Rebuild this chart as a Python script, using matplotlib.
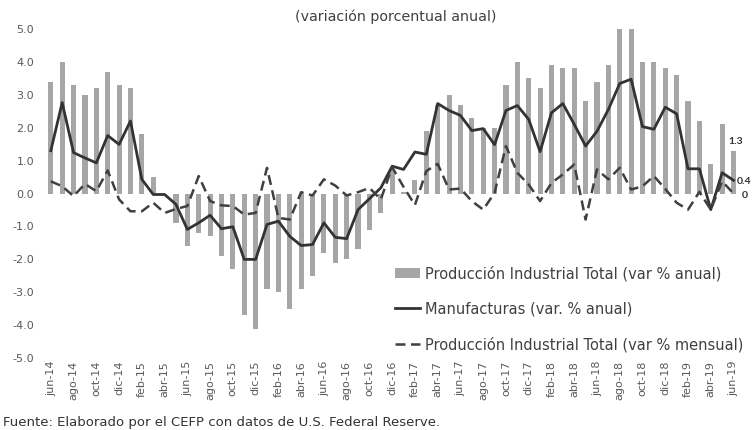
import numpy as np
import matplotlib
matplotlib.use("Agg")
from matplotlib import pyplot as plt

plt.rcParams['font.family'] = ['DejaVu Sans']

meses = ['ene', 'feb', 'mar', 'abr', 'may', 'jun', 'jul', 'ago', 'sep', 'oct', 'nov', 'dic']

# jun-14 ... jun-19
fechas = []
for i in range(61):
    m = (5 + i) % 12
    a = 14 + (5 + i) // 12
    fechas.append(f"{meses[m]}-{a}")

total_anual = [3.4, 4.0, 3.3, 3.0, 3.2, 3.7, 3.3, 3.2, 1.8, 0.5,
               -0.05, -0.9, -1.6, -1.2, -1.3, -1.9, -2.3, -3.7, -4.1, -2.9,
               -3.0, -3.5, -2.9, -2.5, -1.8, -2.1, -2.0, -1.7, -1.1, -0.6,
               0.7, 0.05, 0.4, 1.9, 2.7, 3.0, 2.7, 2.3, 2.0, 2.0,
               3.3, 4.0, 3.5, 3.2, 3.9, 3.8, 3.8, 2.8, 3.4, 3.9,
               5.0, 5.0, 4.0, 4.0, 3.8, 3.6, 2.8, 2.2, 0.9, 2.1,
               1.3]

manufacturas = [1.3, 2.76, 1.24, 1.08, 0.93, 1.76, 1.49, 2.2, 0.43, -0.03,
                -0.03, -0.33, -1.09, -0.89, -0.66, -1.07, -1.01, -2.0, -2.0, -0.94,
                -0.84, -1.3, -1.58, -1.55, -0.89, -1.33, -1.37, -0.49, -0.16, 0.17,
                0.83, 0.73, 1.26, 1.19, 2.73, 2.52, 2.37, 1.91, 1.97, 1.48,
                2.52, 2.67, 2.25, 1.27, 2.45, 2.73, 2.1, 1.44, 1.89, 2.55,
                3.34, 3.47, 2.03, 1.95, 2.62, 2.42, 0.75, 0.75, -0.49, 0.63,
                0.4]

total_mensual = [0.37, 0.22, -0.08, 0.29, 0.07, 0.7, -0.18, -0.54, -0.54, -0.28,
                 -0.59, -0.47, -0.38, 0.53, -0.23, -0.36, -0.38, -0.64, -0.59, 0.78,
                 -0.74, -0.79, 0.04, -0.06, 0.43, 0.24, -0.06, 0.04, 0.17, -0.18,
                 0.8, 0.2, -0.35, 0.68, 0.9, 0.12, 0.15, -0.23, -0.49, 0.02,
                 1.44, 0.63, 0.27, -0.23, 0.32, 0.58, 0.88, -0.79, 0.73, 0.43,
                 0.78, 0.12, 0.22, 0.53, 0.14, -0.28, -0.49, 0.05, -0.49, 0.37,
                 0.0]

x = np.arange(len(fechas))

fig = plt.figure(figsize=(7.52, 4.30), dpi=100)
ax = fig.add_axes([0.060, 0.167, 0.923, 0.766])

b = ax.bar(x, total_anual, width=0.45, color='#a6a6a6')
l1, = ax.plot(x, manufacturas, color='#333333', lw=2)
l2, = ax.plot(x, total_mensual, color='#404040', lw=1.8, ls=(0, (4, 2.2)))

ax.set_xlim(-0.5, 60.5)
ax.set_ylim(-5, 5)
ax.set_yticks(np.arange(-5, 6, 1))
ax.set_yticklabels([f"{v:.1f}" for v in np.arange(-5, 6, 1)])
ax.set_xticks(x[::2])
ax.set_xticklabels(fechas[::2], rotation=90)
ax.tick_params(length=0, labelcolor='#595959')
ax.tick_params(axis='x', labelsize=8, pad=2)
ax.tick_params(axis='y', labelsize=8, pad=8)
for s in ax.spines.values():
    s.set_visible(False)

# etiquetas de los ultimos datos
ax.text(x[-1] + 0.15, total_anual[-1] + 0.15, f"{total_anual[-1]:.1f}", family='Lato',
        fontsize=7.5, fontweight='bold', color='#333333', va='bottom', ha='center')
ax.text(x[-1] + 0.3, manufacturas[-1] - 0.05, f"{manufacturas[-1]:.1f}", family='Lato',
        fontsize=7.5, fontweight='bold', color='#333333', va='center', ha='left', clip_on=False)
ax.text(x[-1] + 0.75, total_mensual[-1] - 0.05, "0", family='Lato',
        fontsize=7.5, fontweight='bold', color='#333333', va='center', ha='left', clip_on=False)

ax.legend([b, l1, l2],
          ['Producción Industrial Total (var % anual)',
           'Manufacturas (var. % anual)',
           'Producción Industrial Total (var % mensual)'],
          loc='lower left', bbox_to_anchor=(0.496, 0.0), borderaxespad=0,
          frameon=False, fontsize=10.5, labelcolor='#404040',
          handlelength=1.7, handletextpad=0.34, labelspacing=1.4)

fig.text(0.526, 0.962, '(variación porcentual anual)', ha='center', va='center',
         fontsize=10.3, color='#404040')
fig.text(0.004, 0.018, 'Fuente: Elaborado por el CEFP con datos de U.S. Federal Reserve.',
         ha='left', va='center', fontsize=9.5, color='#333333')

fig.savefig('out.png', dpi=100)
